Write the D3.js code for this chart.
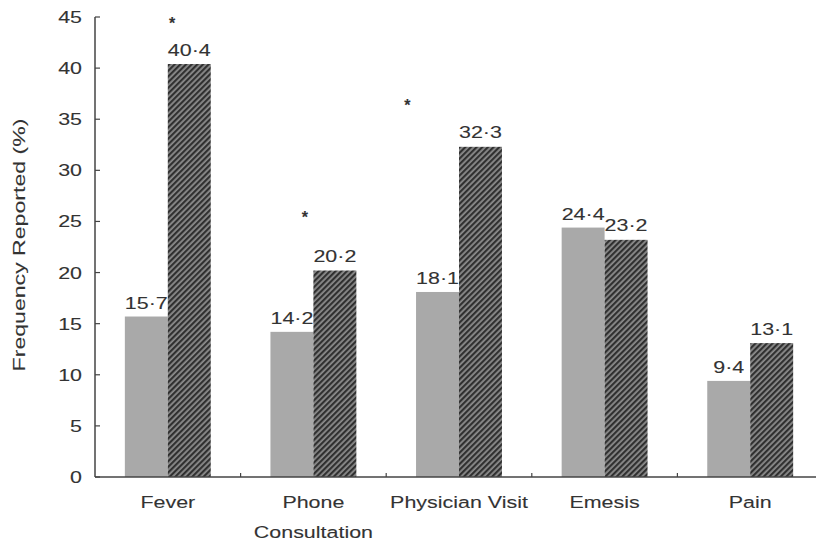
<!DOCTYPE html>
<html><head><meta charset="utf-8">
<script src="https://cdn.jsdelivr.net/npm/d3@7"></script>
<style>
body{margin:0;background:#fff;}
text{font-family:"Liberation Sans",Arial,sans-serif;fill:#333;stroke:#333;stroke-width:0.1;}
</style></head>
<body><svg id="c" width="816" height="544"></svg>
<script>
const categories = ["Fever", "Phone Consultation", "Physician Visit", "Emesis", "Pain"];
const categoryLines = [["Fever"], ["Phone", "Consultation"], ["Physician Visit"], ["Emesis"], ["Pain"]];
const seriesA = [15.7, 14.2, 18.1, 24.4, 9.4];
const seriesB = [40.4, 20.2, 32.3, 23.2, 13.1];
const yTicks = [0, 5, 10, 15, 20, 25, 30, 35, 40, 45];
const asteriskCats = ["Fever", "Phone Consultation", "Physician Visit"];
const asteriskY = [44.6, 25.6, 36.6];
const asteriskOffset = [0.55, 0.40, -0.10]; // fraction of group width from group start

const svg = d3.select("#c");
const y = d3.scaleLinear().domain([0, 45]).range([477, 17]);
const x0 = d3.scaleBand().domain(categories).range([95, 823]).paddingInner(0.41).paddingOuter(0.205);
const x1 = d3.scaleBand().domain(["A","B"]).range([0, x0.bandwidth()]);

const defs = svg.append("defs");
const pat = defs.append("pattern").attr("id","hatch").attr("patternUnits","userSpaceOnUse")
  .attr("width",4).attr("height",4).attr("patternTransform","rotate(45)");
pat.append("rect").attr("width",4).attr("height",4).attr("fill","#8c8c8c");
pat.append("rect").attr("width",2.2).attr("height",4).attr("fill","#303030");

const SX = 1.3, FS = 16.5;
function stretched(sel, xx, yy){ sel.attr("transform", `translate(${xx},${yy}) scale(${SX},1)`); return sel; }

// bars
const g = svg.append("g");
categories.forEach((c,i)=>{
  const bx = x0(c);
  g.append("rect").attr("x", bx + x1("A")).attr("y", y(seriesA[i])).attr("width", x1.bandwidth())
    .attr("height", y(0)-y(seriesA[i])).attr("fill","#a9a9a9");
  g.append("rect").attr("x", bx + x1("B")).attr("y", y(seriesB[i])).attr("width", x1.bandwidth())
    .attr("height", y(0)-y(seriesB[i])).attr("fill","url(#hatch)");
  const la = g.append("text").attr("text-anchor","middle").attr("font-size",FS).text(String(seriesA[i]).replace(".","·"));
  stretched(la, bx + x1("A") + x1.bandwidth()/2, y(seriesA[i]) - 7.5);
  const lb = g.append("text").attr("text-anchor","middle").attr("font-size",FS).text(String(seriesB[i]).replace(".","·"));
  stretched(lb, bx + x1("B") + x1.bandwidth()/2, y(seriesB[i]) - 8.5);
});

// asterisks
asteriskCats.forEach((c,i)=>{
  const t = svg.append("text").attr("text-anchor","middle").attr("font-size",16).attr("font-weight","bold").text("*");
  t.attr("x", x0(c) + x0.bandwidth()*asteriskOffset[i]).attr("y", y(asteriskY[i]) + 8);
});

// y axis
svg.append("line").attr("x1",95).attr("x2",95).attr("y1",y(45)).attr("y2",y(0)).attr("stroke","#444").attr("stroke-width",1.5);
yTicks.forEach(t=>{
  svg.append("line").attr("x1",95).attr("x2",100).attr("y1",y(t)).attr("y2",y(t)).attr("stroke","#444").attr("stroke-width",1.2);
  const tl = svg.append("text").attr("text-anchor","end").attr("font-size",FS).text(t);
  stretched(tl, 82, y(t)+6);
});
// x axis
svg.append("line").attr("x1",95).attr("x2",816).attr("y1",y(0)).attr("y2",y(0)).attr("stroke","#444").attr("stroke-width",1.5);
const step = x0.step();
categories.forEach((c,i)=>{
  if(i>0){
    const tx = x0(c) - x0.paddingInner()*step/2;
    svg.append("line").attr("x1",tx).attr("x2",tx).attr("y1",y(0)).attr("y2",y(0)-4).attr("stroke","#444").attr("stroke-width",1.2);
  }
  categoryLines[i].forEach((ln,j)=>{
    const t = svg.append("text").attr("text-anchor","middle").attr("font-size",FS).text(ln);
    stretched(t, x0(c) + x0.bandwidth()/2, 508 + j*30);
  });
});

// y title
svg.append("text").attr("text-anchor","middle").attr("font-size",FS)
  .attr("transform",`translate(25,245) rotate(-90) scale(1.4,1)`)
  .text("Frequency Reported (%)");
</script></body></html>
